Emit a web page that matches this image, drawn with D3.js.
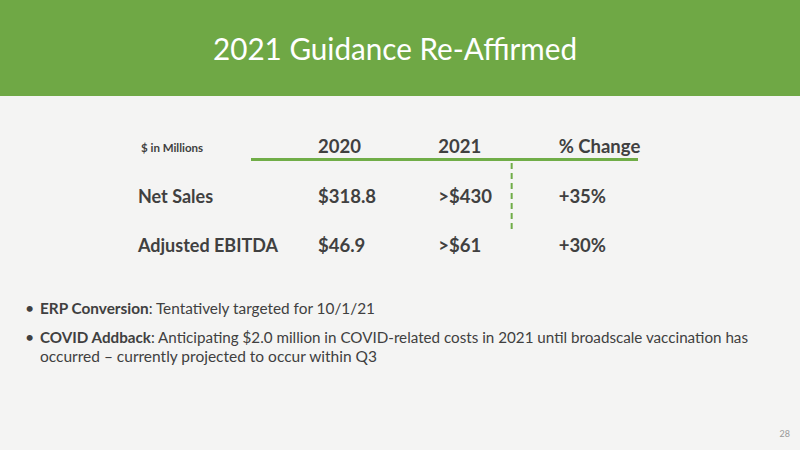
<!DOCTYPE html>
<html><head><meta charset="utf-8">
<script src="https://cdn.jsdelivr.net/npm/d3@7"></script>
<style>html,body{margin:0;padding:0;background:#f4f4f3;}svg{display:block;}</style>
</head><body><svg id="c" width="800" height="450"></svg>
<script>
const title = "2021 Guidance Re-Affirmed";
const unitLabel = "$ in Millions";
const columns = ["2020", "2021", "% Change"];
const rowLabels = ["Net Sales", "Adjusted EBITDA"];
const values2020 = ["$318.8", "$46.9"];
const values2021 = [">$430", ">$61"];
const changes = ["+35%", "+30%"];
const bullets = [
  {bold: "ERP Conversion", text: ":  Tentatively targeted for 10/1/21", cont: null},
  {bold: "COVID Addback", text: ":  Anticipating $2.0 million in COVID-related costs in 2021 until broadscale vaccination has", cont: "occurred \u2013 currently projected to occur within Q3"}
];
const pageNumber = "28";

const svg = d3.select("#c");
const font = "Lato, 'Open Sans', sans-serif";
const grey = "#404040";
const green = "#70ad47";

svg.append("rect").attr("width", 800).attr("height", 450).attr("fill", "#f4f4f3");
svg.append("rect").attr("y", 0).attr("width", 800).attr("height", 96).attr("fill", "#6fa845");
svg.append("text").attr("x", 395).attr("y", 60).attr("text-anchor", "middle")
  .attr("fill", "#ffffff").attr("font-family", font).attr("font-size", 31)
  .attr("textLength", 364).attr("lengthAdjust", "spacingAndGlyphs")
  .text(title);

// table scales
const x = d3.scaleBand().domain(columns).range([318, 679]).paddingInner(0);
const y = d3.scalePoint().domain(["header"].concat(rowLabels)).range([153, 252]);

const g = svg.append("g");
g.append("text").attr("x", 141).attr("y", y("header") - 1)
  .attr("font-family", font).attr("font-weight", 700).attr("font-size", 11.5)
  .attr("fill", grey).text(unitLabel);

g.selectAll("text.col").data(columns).join("text").attr("class", "col")
  .attr("x", d => x(d)).attr("y", y("header"))
  .attr("font-family", font).attr("font-weight", 700).attr("font-size", 18.5)
  .attr("fill", grey).text(d => d);

g.append("line").attr("x1", 251).attr("x2", 638)
  .attr("y1", y("header") + 6.5).attr("y2", y("header") + 6.5)
  .attr("stroke", green).attr("stroke-width", 3);

g.append("line").attr("x1", x("% Change") - 47).attr("x2", x("% Change") - 47)
  .attr("y1", y("header") + 10).attr("y2", 230)
  .attr("stroke", green).attr("stroke-width", 2).attr("stroke-dasharray", "6,4");

const rows = rowLabels.map((r, i) => ({label: r, v: [values2020[i], values2021[i], changes[i]]}));
const rg = g.selectAll("g.row").data(rows).join("g").attr("class", "row");
rg.append("text").attr("x", 138).attr("y", d => y(d.label))
  .attr("font-family", font).attr("font-weight", 700).attr("font-size", 18)
  .attr("fill", grey).text(d => d.label);
rg.selectAll("text.val").data(d => d.v.map((v, j) => ({v, c: columns[j], r: d.label}))).join("text")
  .attr("class", "val").attr("x", d => x(d.c)).attr("y", d => y(d.r))
  .attr("font-family", font).attr("font-weight", 700).attr("font-size", 18.5)
  .attr("fill", grey).text(d => d.v);

// bullets
const by = [314, 343];
const lineLen = [335, 708];
bullets.forEach((b, i) => {
  svg.append("text").attr("x", 25).attr("y", by[i]).attr("font-family", font)
    .attr("font-size", 16).attr("fill", grey).text("\u2022");
  const t = svg.append("text").attr("x", 40).attr("y", by[i]).attr("font-family", font)
    .attr("font-size", 15.5).attr("fill", grey)
    .attr("textLength", lineLen[i]).attr("lengthAdjust", "spacingAndGlyphs");
  t.append("tspan").attr("font-weight", 700).text(b.bold);
  t.append("tspan").text(b.text);
  if (b.cont) {
    svg.append("text").attr("x", 40).attr("y", by[i] + 19).attr("font-family", font)
      .attr("font-size", 15.5).attr("fill", grey)
      .attr("textLength", 337).attr("lengthAdjust", "spacingAndGlyphs").text(b.cont);
  }
});

svg.append("text").attr("x", 790).attr("y", 437).attr("text-anchor", "end")
  .attr("font-family", font).attr("font-size", 9).attr("fill", "#999").text(pageNumber);
</script></body></html>
